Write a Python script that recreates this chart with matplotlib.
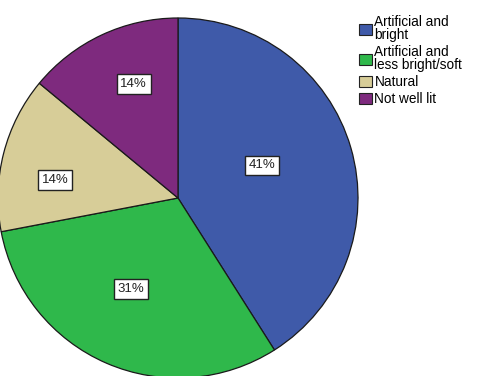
import numpy as np
import matplotlib.pyplot as plt
from matplotlib.patches import Patch

plt.switch_backend("Agg")
plt.rcParams["font.family"] = ["Liberation Sans", "DejaVu Sans"]

categories = ["Artificial and\nbright", "Artificial and\nless bright/soft", "Natural", "Not well lit"]
values = [41, 31, 14, 14]
colors = ["#3f5aa9", "#2fb84b", "#d7cd98", "#7e2a7e"]

# label placement per wedge (fraction of radius, angle tweak in degrees)
label_dist = [0.50, 0.57, 0.69, 0.68]
label_shift = [5, -4, 6, -4]

fig = plt.figure(figsize=(4.78, 3.76), dpi=100)
ax = fig.add_axes([0, 0, 1, 1])

cx, cy, r = 178, 178, 180
wedges, _ = ax.pie(values, colors=colors, startangle=90, counterclock=False,
                   center=(cx, cy), radius=r,
                   wedgeprops=dict(edgecolor="#1a1a1a", linewidth=0.9))
ax.set_xlim(0, 478)
ax.set_ylim(0, 376)
ax.set_aspect("equal")
ax.axis("off")

total = sum(values)
for w, v, d, s in zip(wedges, values, label_dist, label_shift):
    ang = np.deg2rad((w.theta1 + w.theta2) / 2 + s)
    x = cx + d * r * np.cos(ang)
    y = cy + d * r * np.sin(ang)
    ax.text(x, y, f"{round(100 * v / total)}%", ha="center", va="center", fontsize=9.5,
            color="#222222",
            bbox=dict(boxstyle="square,pad=0.28", facecolor="white", edgecolor="#222222", linewidth=1))

handles = [Patch(facecolor=c, edgecolor="#222222", linewidth=0.8) for c in colors]
leg = fig.legend(handles, categories, loc="upper left", bbox_to_anchor=(354 / 478, 1 - 10 / 376),
                 frameon=False, fontsize=9.8, handlelength=0.9, handleheight=0.9,
                 handletextpad=0.2, labelspacing=0.25, borderaxespad=0)
for t in leg.get_texts():
    t.set_linespacing(0.85)

fig.savefig("out.png", dpi=100)
